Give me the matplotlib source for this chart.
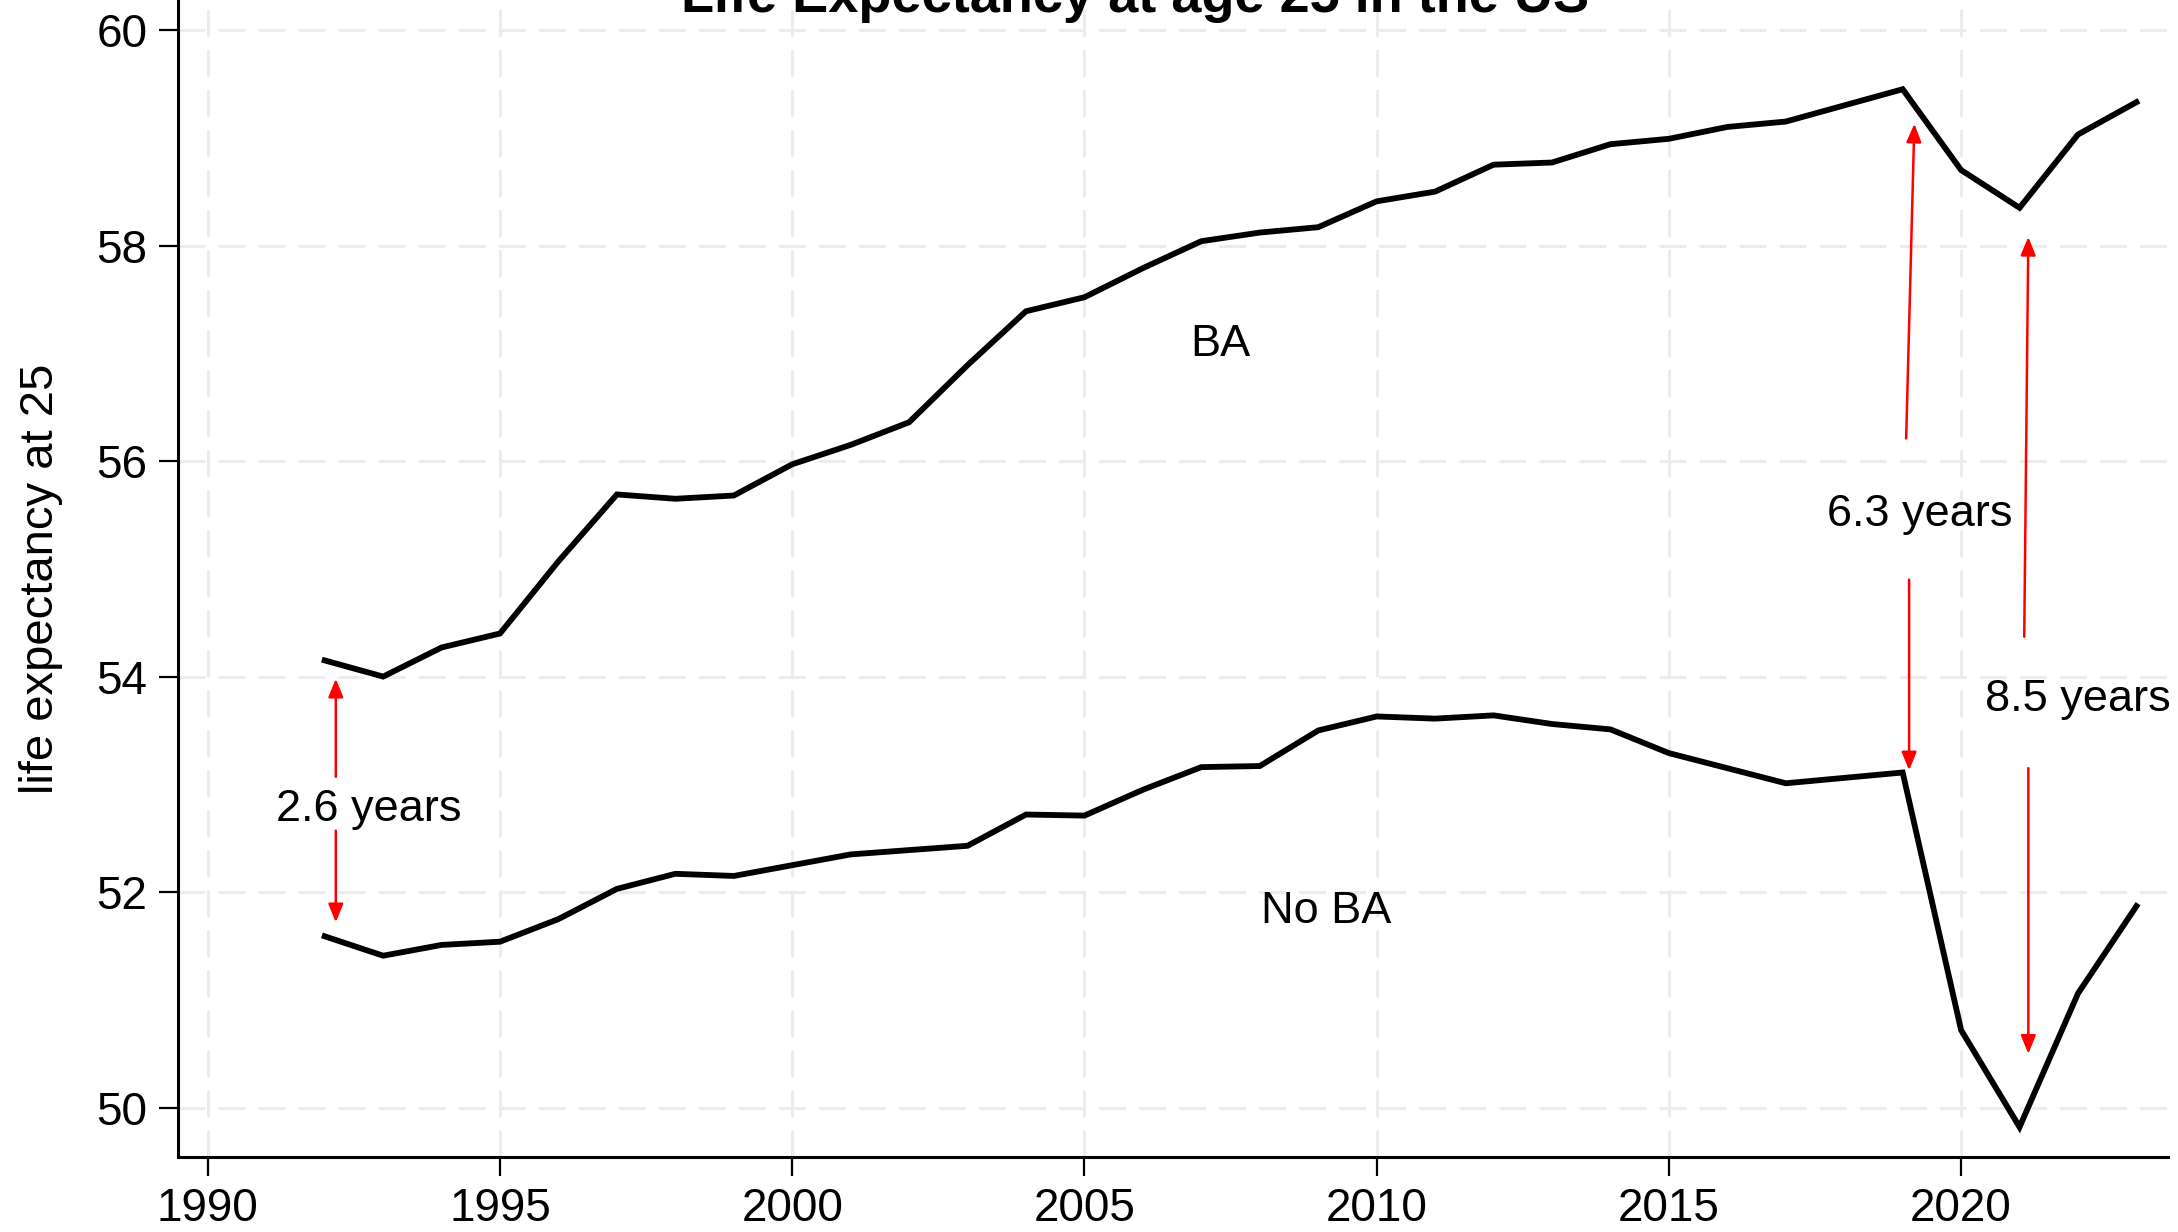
import matplotlib
matplotlib.use("Agg")
import matplotlib.pyplot as plt

plt.rcParams['font.family'] = ['Liberation Sans', 'DejaVu Sans']

years = list(range(1992, 2024))
ba = [54.15, 54.00, 54.27, 54.40, 55.07, 55.69, 55.65, 55.68, 55.97, 56.15,
      56.36, 56.89, 57.39, 57.52, 57.79, 58.04, 58.12, 58.17, 58.41, 58.50,
      58.75, 58.77, 58.94, 58.99, 59.10, 59.15, 59.30, 59.45, 58.70, 58.35,
      59.03, 59.33]
no_ba = [51.59, 51.41, 51.51, 51.54, 51.75, 52.03, 52.17, 52.15, 52.25, 52.35,
         52.39, 52.43, 52.72, 52.71, 52.95, 53.16, 53.17, 53.50, 53.63, 53.61,
         53.64, 53.56, 53.51, 53.29, 53.15, 53.01, 53.06, 53.11, 50.72, 49.82,
         51.06, 51.87]

x_ticks = [1990, 1995, 2000, 2005, 2010, 2015, 2020]
y_ticks = [50, 52, 54, 56, 58, 60]

title = "Life Expectancy at age 25 in the US"
ylabel = "life expectancy at 25"
series_labels = ["BA", "No BA"]
series_label_pos = [(2007.33, 57.08), (2009.13, 51.82)]

# gap annotations: label, text position, arrows (start -> tip)
gap_labels = ["2.6 years", "6.3 years", "8.5 years"]
gap_text_pos = [(1992.76, 52.77), (2019.29, 55.50), (2022.0, 53.79)]
gap_arrows = [
    [((1992.19, 53.07), (1992.19, 53.98)), ((1992.19, 52.57), (1992.19, 51.72))],
    [((2019.06, 56.21), (2019.20, 59.13)), ((2019.11, 54.90), (2019.11, 53.13))],
    [((2021.08, 54.37), (2021.15, 58.08)), ((2021.15, 53.15), (2021.15, 50.50))],
]

W, H = 2178, 1232
fig = plt.figure(figsize=(W / 100, H / 100), dpi=100)
ax = fig.add_axes([178 / W, 1 - 1156.7 / H, (2168 - 178) / W, 1156.7 / H])

ax.set_xlim(1989.49, 2023.54)
ax.set_ylim(49.545, 60.278)

grid_kw = dict(color='#ececec', linewidth=2.2, linestyle=(0, (8.8, 4.3)), zorder=0)
for xv in x_ticks:
    ax.axvline(xv, **grid_kw)
for yv in y_ticks:
    ax.axhline(yv, **grid_kw)

ax.plot(years, ba, color='black', linewidth=4.2, zorder=3, solid_joinstyle='miter')
ax.plot(years, no_ba, color='black', linewidth=4.2, zorder=3, solid_joinstyle='miter')

for lab, (tx, ty) in zip(series_labels, series_label_pos):
    ax.text(tx, ty, lab, fontsize=32.5, ha='center', va='center', zorder=4)

for lab, (tx, ty), arrows in zip(gap_labels, gap_text_pos, gap_arrows):
    ax.text(tx, ty, lab, fontsize=32.5, ha='center', va='center', zorder=4)
    for (x0, y0), (x1, y1) in arrows:
        ax.annotate('', xy=(x1, y1), xytext=(x0, y0),
                    arrowprops=dict(arrowstyle='-|>,head_length=1.1,head_width=0.45',
                                    color='red', lw=1.8, shrinkA=0, shrinkB=0),
                    zorder=5)

ax.set_xticks(x_ticks)
ax.set_yticks(y_ticks)
ax.tick_params(axis='both', which='major', direction='out', length=14, width=1.6,
               labelsize=33, pad=8, color='black')
ax.set_ylabel(ylabel, fontsize=34, labelpad=24)

for side in ['top', 'right']:
    ax.spines[side].set_visible(False)
for side in ['left', 'bottom']:
    ax.spines[side].set_linewidth(2.2)

fig.text(1135 / W, 1 - 12 / H, title, fontsize=39, fontweight='bold',
         ha='center', va='baseline')

fig.savefig('out.png', dpi=100)
